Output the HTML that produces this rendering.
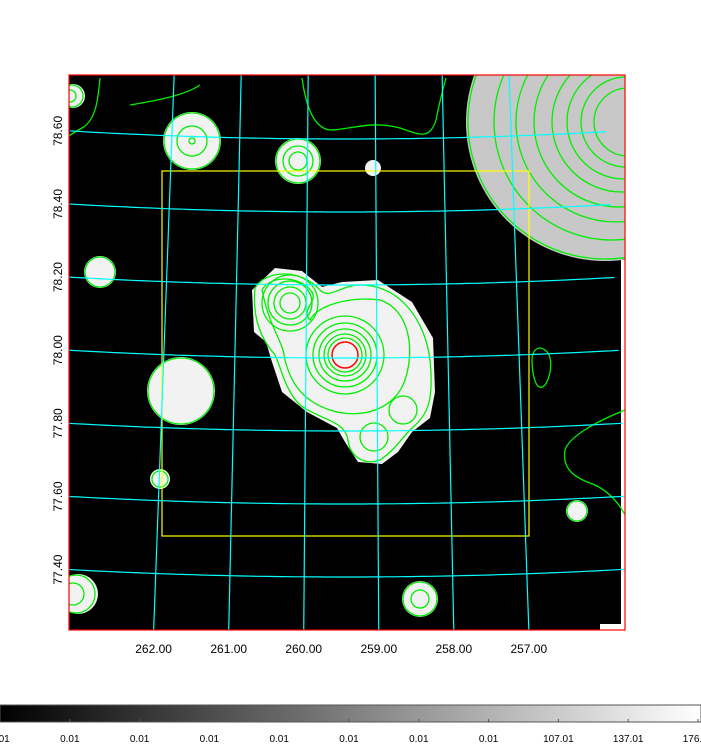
<!DOCTYPE html>
<html><head><meta charset="utf-8"><style>
html,body{margin:0;padding:0;background:#fff;width:701px;height:748px;overflow:hidden}
svg{display:block;font-family:"Liberation Sans",sans-serif}
</style></head><body>
<svg id="chart" width="701" height="748" viewBox="0 0 701 748">
<defs>
<clipPath id="plotclip"><rect x="69" y="75" width="556" height="555"/></clipPath>
<linearGradient id="cbar" x1="0" x2="1" y1="0" y2="0"><stop offset="0" stop-color="#000"/><stop offset="1" stop-color="#fff"/></linearGradient>
</defs>
<g clip-path="url(#plotclip)">
<rect x="69" y="75" width="556" height="555" fill="#000"/>
<rect x="621" y="260" width="4" height="370" fill="#fff"/>
<rect x="600" y="624" width="25" height="6" fill="#fff"/>
<circle cx="605" cy="122" r="139" fill="#c8c8c8"/>
<g fill="#f2f2f2">
<path d="M252,290 L275,268 L302,271 L322,287 L342,282 L378,280 L412,302 L433,338 L435,392 L430,418 L412,432 L398,452 L382,464 L358,462 L345,442 L337,428 L307,412 L282,392 L272,362 L266,342 L254,332 Z"/>
<circle cx="192" cy="141" r="29"/><circle cx="298" cy="161" r="23"/><circle cx="373" cy="168" r="8"/>
<circle cx="100" cy="272" r="16"/><circle cx="181" cy="391" r="34"/><circle cx="160" cy="479" r="10"/>
<circle cx="577" cy="511" r="11"/><circle cx="420" cy="599" r="18"/><circle cx="78" cy="594" r="20"/><circle cx="73" cy="96" r="12"/>
</g>
<g fill="none" stroke="#00ee00" stroke-width="1.3">
<circle cx="605" cy="122" r="137"/><circle cx="612" cy="122" r="118"/><circle cx="616" cy="122" r="100"/><circle cx="619" cy="122" r="85"/><circle cx="622" cy="122" r="70"/><circle cx="624" cy="122" r="57"/><circle cx="626" cy="122" r="45"/><circle cx="628" cy="122" r="34"/>
<path d="M255,288 C265,270 300,268 320,290 C330,300 340,285 360,285 C400,285 425,320 430,360 C434,400 428,415 412,428 C400,440 395,450 380,460 C362,466 350,455 348,440 C345,420 320,420 300,405 C285,390 282,370 275,355 C262,340 252,320 255,288 Z"/>
<path d="M262,290 C270,275 300,275 312,292 C318,302 300,310 310,320 C318,305 350,296 380,300 C410,310 415,350 405,380 C395,410 360,420 330,410 C300,400 290,380 285,360 C283,340 270,330 262,290 Z"/>
<circle cx="345" cy="355" r="39"/><circle cx="345" cy="355" r="32"/><circle cx="345" cy="355" r="26"/><circle cx="345" cy="355" r="21"/><circle cx="345" cy="355" r="17"/>
<circle cx="290" cy="303" r="28"/><circle cx="290" cy="303" r="22"/><circle cx="290" cy="303" r="16"/><circle cx="290" cy="303" r="10"/>
<circle cx="403" cy="410" r="14"/><circle cx="374" cy="437" r="14"/>
<circle cx="192" cy="141" r="28"/><circle cx="192" cy="141" r="15"/><circle cx="192" cy="141" r="3"/>
<circle cx="298" cy="161" r="22"/><circle cx="298" cy="161" r="15"/><circle cx="298" cy="161" r="9"/>
<circle cx="100" cy="272" r="15"/><circle cx="181" cy="391" r="33"/><circle cx="160" cy="479" r="8"/>
<circle cx="577" cy="511" r="10"/><circle cx="420" cy="599" r="17"/><circle cx="420" cy="599" r="9"/>
<circle cx="76" cy="594" r="19"/><circle cx="73" cy="594" r="11"/><circle cx="72" cy="96" r="11"/><circle cx="70" cy="96" r="6"/>
<path d="M302,78 C305,100 312,128 330,130 C350,130 370,120 400,128 C420,135 430,140 436,120 C440,100 444,85 446,78"/>
<path d="M100,78 C98,100 96,120 82,128 C75,132 70,135 69,136"/>
<path d="M200,85 C185,95 160,100 130,105"/>
<path d="M540,348 C555,350 552,375 545,385 C535,395 532,370 532,360 C532,352 536,348 540,348 Z"/>
<path d="M625,410 C600,420 570,435 565,450 C562,470 575,478 595,485 C610,492 620,505 625,515"/>
</g>
<circle cx="345" cy="355" r="13" fill="none" stroke="#ff0000" stroke-width="1.5"/>
<rect x="162" y="171" width="367" height="365" fill="none" stroke="#ffff00" stroke-width="1.2"/>
<g id="grid"></g>
</g>
<rect x="69" y="75" width="556" height="555" fill="none" stroke="#ff0000" stroke-width="1.2"/>
<g id="labels"></g>
<rect x="0" y="705" width="701" height="17" fill="url(#cbar)" stroke="#555" stroke-width="1"/>
<g id="cbticks"></g>
</svg>
<script>
const raTicks=[262,261,260,259,258,257];
const decTicks=[77.4,77.6,77.8,78.0,78.2,78.4,78.6];
const raLabels=["262.00","261.00","260.00","259.00","258.00","257.00"];
const decLabels=["77.40","77.60","77.80","78.00","78.20","78.40","78.60"];
const cbLabels=["0.01","0.01","0.01","0.01","0.01","0.01","0.01","0.01","107.01","137.01","176.01"];
const NS="http://www.w3.org/2000/svg";
const px=345,py=-4550,r0=4908,pxPerDeg=365,ra0=259.45,radPerDeg=0.01448;
function rad(d){return r0-(d-78)*pxPerDeg;}
function pt(ra,dec){const t=(ra-ra0)*radPerDeg,r=rad(dec);return [px-r*Math.sin(t),py+r*Math.cos(t)];}
const grid=document.getElementById('grid'),lab=document.getElementById('labels');
decTicks.forEach((d,i)=>{
  let s="";for(let ra=263.5;ra>=255.5;ra-=0.1){const p=pt(ra,d);s+=(s?"L":"M")+p[0].toFixed(1)+","+p[1].toFixed(1);}
  const e=document.createElementNS(NS,"path");e.setAttribute("d",s);e.setAttribute("fill","none");e.setAttribute("stroke","#00ffff");e.setAttribute("stroke-width","1.2");
  
  
  grid.appendChild(e);
  const y=py+Math.sqrt(rad(d)**2-(69-px)**2);
  const tx=document.createElementNS(NS,"text");tx.setAttribute("transform","translate(62,"+y.toFixed(1)+") rotate(-90)");tx.setAttribute("text-anchor","middle");tx.setAttribute("font-size","12");tx.textContent=decLabels[i];
  
  
  lab.appendChild(tx);
});
raTicks.forEach((ra,i)=>{
  const a=pt(ra,76.8),b=pt(ra,79.0);
  const e=document.createElementNS(NS,"line");e.setAttribute("x1",a[0]);e.setAttribute("y1",a[1]);e.setAttribute("x2",b[0]);e.setAttribute("y2",b[1]);e.setAttribute("stroke","#00ffff");e.setAttribute("stroke-width","1.2");
  
  
  grid.appendChild(e);
  const t=(ra-ra0)*radPerDeg;const r=(630-py)/Math.cos(t);const x=px-r*Math.sin(t);
  const tx=document.createElementNS(NS,"text");tx.setAttribute("x",x.toFixed(1));tx.setAttribute("y","653");tx.setAttribute("text-anchor","middle");tx.setAttribute("font-size","12");tx.textContent=raLabels[i];
  
  
  lab.appendChild(tx);
});
const cb=document.getElementById('cbticks');
cbLabels.forEach((l,i)=>{
  const x=i*69.8;
  const tk=document.createElementNS(NS,"line");tk.setAttribute("x1",x);tk.setAttribute("x2",x);tk.setAttribute("y1","719");tk.setAttribute("y2","722");tk.setAttribute("stroke","#555");
  
  
  cb.appendChild(tk);
  const tx=document.createElementNS(NS,"text");tx.setAttribute("x",x);tx.setAttribute("y","742");tx.setAttribute("text-anchor","middle");tx.setAttribute("font-size","10");tx.textContent=l;
  
  
  cb.appendChild(tx);
});
</script>
</body></html>
